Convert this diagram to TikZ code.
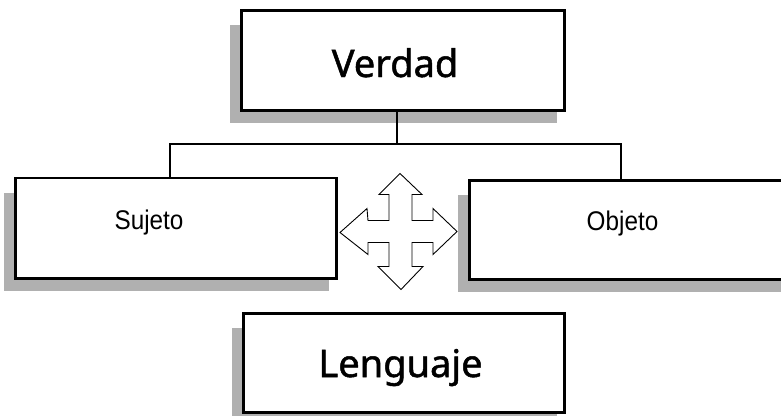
\documentclass[tikz,border=0pt]{standalone}
\usepackage{fontspec}
\setmainfont{Noto Sans}
\newfontfamily\heavyfont[FakeBold=1.3]{Noto Sans}
\newfontfamily\arialfont[FakeStretch=0.9]{Liberation Sans}
\usetikzlibrary{calc,backgrounds}

\tikzset{
  box/.style={draw=black, fill=white, line width=2.6pt, rectangle,
              inner sep=0pt, anchor=north west},
  boxshadow/.style={fill=black!31, draw=none},
  link/.style={draw=black, line width=2pt},
  quadarrow/.style={draw=black, fill=white, line width=0.9pt, line join=miter},
  bigtext/.style={font=\heavyfont\fontsize{38}{44}\selectfont, anchor=base, inner sep=0pt},
  smalltext/.style={font=\arialfont\fontsize{27}{32}\selectfont, anchor=base, inner sep=0pt}
}

\begin{document}
\begin{tikzpicture}[x=1pt, y=-1pt]
  \useasboundingbox (0,0) rectangle (781,415);
  \clip (0,0) rectangle (781,415);

  % boxes
  \node[box, minimum width=323pt, minimum height=100pt] (v) at (240,9) {};
  \node[box, minimum width=321pt, minimum height=100.5pt] (s) at (14,176.5) {};
  \node[box, minimum width=322pt, minimum height=99pt] (o) at (468,179) {};
  \node[box, minimum width=321pt, minimum height=99pt] (l) at (242,312) {};

  % drop shadows, down and to the left
  \begin{scope}[on background layer]
    \foreach \b in {v,s,o,l}{
      \fill[boxshadow] ($(\b.north west)+(-10,16)$) rectangle ($(\b.south east)+(-9,11)$);
    }
  \end{scope}

  % labels
  \node[bigtext] (vt) at (395,77) {Verdad};
  \node[bigtext] (lt) at (400.5,377) {Lenguaje};
  \node[smalltext] (st) at (149,229) {Sujeto};
  \node[smalltext] (ot) at (622.5,230) {Objeto};

  % tree connectors
  \coordinate (j) at (397,144);
  \coordinate (jl) at (170,144);
  \coordinate (jr) at (621,144);
  \draw[link] (v.south -| j) -- (j);
  \draw[link, line cap=rect] (s.north -| jl) -- (jl) -- (jr) -- (o.north -| jr);

  % four-way arrow
  \coordinate (c) at (400,231.5);
  \draw[quadarrow] ($(c)+(0,-58)$) -- ($(c)+(22,-37)$) -- ($(c)+(12,-37)$)
    -- ($(c)+(12,-11)$) -- ($(c)+(33,-11)$) -- ($(c)+(33,-23)$)
    -- ($(c)+(57,0)$) -- ($(c)+(33,23)$) -- ($(c)+(33,11)$)
    -- ($(c)+(12,11)$) -- ($(c)+(12,35)$) -- ($(c)+(23,35)$)
    -- ($(c)+(1,58)$) -- ($(c)+(-22,35)$) -- ($(c)+(-11,35)$)
    -- ($(c)+(-11,11)$) -- ($(c)+(-32,11)$) -- ($(c)+(-32,23)$)
    -- ($(c)+(-60,1)$) -- ($(c)+(-33,-23)$) -- ($(c)+(-32,-11)$)
    -- ($(c)+(-11,-11)$) -- ($(c)+(-11,-37)$) -- ($(c)+(-21,-37)$)
    -- cycle;
\end{tikzpicture}
\end{document}
